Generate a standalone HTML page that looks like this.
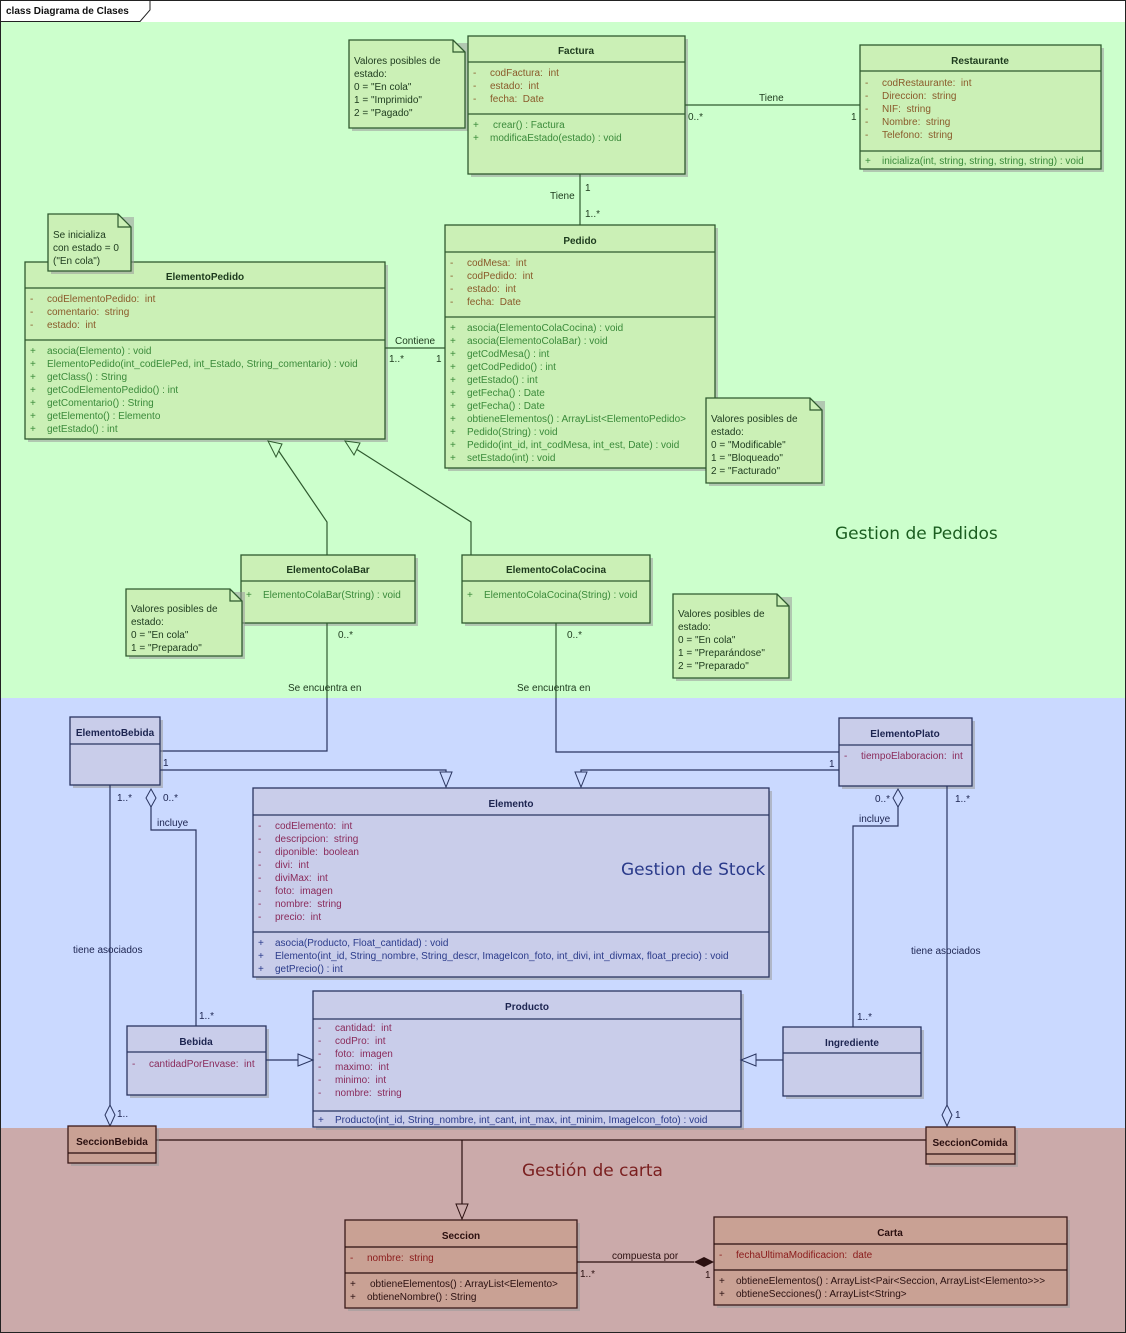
<!DOCTYPE html>
<html><head><meta charset="utf-8"><style>
html,body{margin:0;padding:0;background:#fff}
svg{display:block;font-family:"Liberation Sans",sans-serif}
text{white-space:pre}
.g{fill:#cbf0b6;stroke:#2f5a2f;stroke-width:1.3}
.b{fill:#c9cdea;stroke:#2a3560;stroke-width:1.3}
.r{fill:#c9a194;stroke:#3a1a1a;stroke-width:1.3}
.sh{fill:#9a9a9a;opacity:.55}
.hg{font-size:10px;font-weight:bold;fill:#1d3a1d;text-anchor:middle}
.hb{font-size:10px;font-weight:bold;fill:#1c2450;text-anchor:middle}
.hr{font-size:10px;font-weight:bold;fill:#2a0f0f;text-anchor:middle}
.ag{font-size:10px;fill:#8a5a2a}
.mg{font-size:10px;fill:#3a8a3a}
.ab{font-size:10px;fill:#8a2a5a}
.mb{font-size:10px;fill:#2a3a8a}
.ar{font-size:10px;fill:#8a1a1a}
.mr{font-size:10px;fill:#2a1010}
.n{font-size:10px;fill:#1d3a1d}
.lg{font-size:10px;fill:#1d3a1d}
.lb{font-size:10px;fill:#1c2450}
.lr{font-size:10px;fill:#2a0f0f}
.big{font-family:"DejaVu Sans",sans-serif;font-size:17px}
.lng{stroke:#2f5a2f;fill:none;stroke-width:1.2}
.lnb{stroke:#2a3560;fill:none;stroke-width:1.2}
.lnr{stroke:#2a0f0f;fill:none;stroke-width:1.2}
</style></head><body>
<svg width="1126" height="1333" viewBox="0 0 1126 1333" xmlns="http://www.w3.org/2000/svg">
<rect x="0" y="0" width="1126" height="1333" fill="#fff"/>
<rect x="1" y="22" width="1124" height="676" fill="#ccffcc"/>
<rect x="1" y="698" width="1124" height="430" fill="#cad9ff"/>
<rect x="1" y="1128" width="1124" height="204" fill="#cbaaaa"/>
<rect x="0.5" y="0.5" width="1125" height="1332" fill="none" stroke="#222"/>
<path d="M0.5 21.5 H140 L150 10 V0.5" fill="none" stroke="#222"/>
<text x="6" y="14" font-size="10" font-weight="bold" fill="#111">class Diagrama de Clases</text>

<g>
<rect class="sh" x="352" y="43" width="116" height="88"/>
<path d="M349 40 H453 L465 52 V128 H349 Z" class="g" fill="#cdf5c9"/>
<path d="M453 40 V52 H465" class="lng"/>
<text class="n" x="354" y="64">Valores posibles de</text>
<text class="n" x="354" y="77">estado:</text>
<text class="n" x="354" y="90">0 = "En cola"</text>
<text class="n" x="354" y="103">1 = "Imprimido"</text>
<text class="n" x="354" y="116">2 = "Pagado"</text>
</g>

<rect class="sh" x="471" y="39" width="217" height="138"/>
<rect class="g" x="468" y="36" width="217" height="138"/>
<line class="lng" x1="468" y1="62" x2="685" y2="62"/>
<line class="lng" x1="468" y1="114" x2="685" y2="114"/>
<text class="hg" x="576" y="54">Factura</text>
<text class="ag" x="473" y="76">-</text><text class="ag" x="490" y="76">codFactura:  int</text>
<text class="ag" x="473" y="89">-</text><text class="ag" x="490" y="89">estado:  int</text>
<text class="ag" x="473" y="102">-</text><text class="ag" x="490" y="102">fecha:  Date</text>
<text class="mg" x="473" y="128">+</text><text class="mg" x="493" y="128">crear() : Factura</text>
<text class="mg" x="473" y="141">+</text><text class="mg" x="490" y="141">modificaEstado(estado) : void</text>

<rect class="sh" x="863" y="48" width="241" height="124"/>
<rect class="g" x="860" y="45" width="241" height="124"/>
<line class="lng" x1="860" y1="71" x2="1101" y2="71"/>
<line class="lng" x1="860" y1="151" x2="1101" y2="151"/>
<text class="hg" x="980" y="64">Restaurante</text>
<text class="ag" x="865" y="86">-</text><text class="ag" x="882" y="86">codRestaurante:  int</text>
<text class="ag" x="865" y="99">-</text><text class="ag" x="882" y="99">Direccion:  string</text>
<text class="ag" x="865" y="112">-</text><text class="ag" x="882" y="112">NIF:  string</text>
<text class="ag" x="865" y="125">-</text><text class="ag" x="882" y="125">Nombre:  string</text>
<text class="ag" x="865" y="138">-</text><text class="ag" x="882" y="138">Telefono:  string</text>
<text class="mg" x="865" y="164">+</text><text class="mg" x="882" y="164">inicializa(int, string, string, string, string) : void</text>

<line class="lng" x1="685" y1="105" x2="860" y2="105"/>
<text class="lg" x="759" y="101">Tiene</text>
<text class="lg" x="688" y="120">0..*</text>
<text class="lg" x="851" y="120">1</text>

<line class="lng" x1="580" y1="174" x2="580" y2="225"/>
<text class="lg" x="550" y="199">Tiene</text>
<text class="lg" x="585" y="191">1</text>
<text class="lg" x="585" y="217">1..*</text>

<rect class="sh" x="448" y="228" width="270" height="243"/>
<rect class="g" x="445" y="225" width="270" height="243"/>
<line class="lng" x1="445" y1="252" x2="715" y2="252"/>
<line class="lng" x1="445" y1="317" x2="715" y2="317"/>
<text class="hg" x="580" y="244">Pedido</text>
<text class="ag" x="450" y="266">-</text><text class="ag" x="467" y="266">codMesa:  int</text>
<text class="ag" x="450" y="279">-</text><text class="ag" x="467" y="279">codPedido:  int</text>
<text class="ag" x="450" y="292">-</text><text class="ag" x="467" y="292">estado:  int</text>
<text class="ag" x="450" y="305">-</text><text class="ag" x="467" y="305">fecha:  Date</text>
<text class="mg" x="450" y="331">+</text><text class="mg" x="467" y="331">asocia(ElementoColaCocina) : void</text>
<text class="mg" x="450" y="344">+</text><text class="mg" x="467" y="344">asocia(ElementoColaBar) : void</text>
<text class="mg" x="450" y="357">+</text><text class="mg" x="467" y="357">getCodMesa() : int</text>
<text class="mg" x="450" y="370">+</text><text class="mg" x="467" y="370">getCodPedido() : int</text>
<text class="mg" x="450" y="383">+</text><text class="mg" x="467" y="383">getEstado() : int</text>
<text class="mg" x="450" y="396">+</text><text class="mg" x="467" y="396">getFecha() : Date</text>
<text class="mg" x="450" y="409">+</text><text class="mg" x="467" y="409">getFecha() : Date</text>
<text class="mg" x="450" y="422">+</text><text class="mg" x="467" y="422">obtieneElementos() : ArrayList&lt;ElementoPedido&gt;</text>
<text class="mg" x="450" y="435">+</text><text class="mg" x="467" y="435">Pedido(String) : void</text>
<text class="mg" x="450" y="448">+</text><text class="mg" x="467" y="448">Pedido(int_id, int_codMesa, int_est, Date) : void</text>
<text class="mg" x="450" y="461">+</text><text class="mg" x="467" y="461">setEstado(int) : void</text>

<rect class="sh" x="709" y="401" width="116" height="85"/>
<path d="M706 398 H810 L822 410 V483 H706 Z" class="g" fill="#cdf5c9"/>
<path d="M810 398 V410 H822" class="lng"/>
<text class="n" x="711" y="422">Valores posibles de</text>
<text class="n" x="711" y="435">estado:</text>
<text class="n" x="711" y="448">0 = "Modificable"</text>
<text class="n" x="711" y="461">1 = "Bloqueado"</text>
<text class="n" x="711" y="474">2 = "Facturado"</text>

<rect class="sh" x="28" y="265" width="360" height="177"/>
<rect class="g" x="25" y="262" width="360" height="177"/>
<line class="lng" x1="25" y1="288" x2="385" y2="288"/>
<line class="lng" x1="25" y1="340" x2="385" y2="340"/>
<text class="hg" x="205" y="280">ElementoPedido</text>
<text class="ag" x="30" y="302">-</text><text class="ag" x="47" y="302">codElementoPedido:  int</text>
<text class="ag" x="30" y="315">-</text><text class="ag" x="47" y="315">comentario:  string</text>
<text class="ag" x="30" y="328">-</text><text class="ag" x="47" y="328">estado:  int</text>
<text class="mg" x="30" y="354">+</text><text class="mg" x="47" y="354">asocia(Elemento) : void</text>
<text class="mg" x="30" y="367">+</text><text class="mg" x="47" y="367">ElementoPedido(int_codElePed, int_Estado, String_comentario) : void</text>
<text class="mg" x="30" y="380">+</text><text class="mg" x="47" y="380">getClass() : String</text>
<text class="mg" x="30" y="393">+</text><text class="mg" x="47" y="393">getCodElementoPedido() : int</text>
<text class="mg" x="30" y="406">+</text><text class="mg" x="47" y="406">getComentario() : String</text>
<text class="mg" x="30" y="419">+</text><text class="mg" x="47" y="419">getElemento() : Elemento</text>
<text class="mg" x="30" y="432">+</text><text class="mg" x="47" y="432">getEstado() : int</text>

<rect class="sh" x="51" y="217" width="83" height="57"/>
<path d="M48 214 H118 L131 227 V271 H48 Z" class="g" fill="#cdf5c9"/>
<path d="M118 214 V227 H131" class="lng"/>
<text class="n" x="53" y="238">Se inicializa</text>
<text class="n" x="53" y="251">con estado = 0</text>
<text class="n" x="53" y="264">("En cola")</text>

<line class="lng" x1="385" y1="348" x2="445" y2="348"/>
<text class="lg" x="395" y="344">Contiene</text>
<text class="lg" x="389" y="362">1..*</text>
<text class="lg" x="436" y="362">1</text>

<path class="lng" d="M327 555 V522 L276 447"/>
<path d="M268 441 L282 444 L276 457 Z" fill="#ccffcc" stroke="#2f5a2f"/>
<path class="lng" d="M471 555 V522 L353 447"/>
<path d="M345 441 L360 443 L354 455 Z" fill="#ccffcc" stroke="#2f5a2f"/>

<rect class="sh" x="244" y="558" width="174" height="68"/>
<rect class="g" x="241" y="555" width="174" height="68"/>
<line class="lng" x1="241" y1="581" x2="415" y2="581"/>
<text class="hg" x="328" y="573">ElementoColaBar</text>
<text class="mg" x="246" y="598">+</text><text class="mg" x="263" y="598">ElementoColaBar(String) : void</text>

<rect class="sh" x="465" y="558" width="188" height="68"/>
<rect class="g" x="462" y="555" width="188" height="68"/>
<line class="lng" x1="462" y1="581" x2="650" y2="581"/>
<text class="hg" x="556" y="573">ElementoColaCocina</text>
<text class="mg" x="467" y="598">+</text><text class="mg" x="484" y="598">ElementoColaCocina(String) : void</text>

<rect class="sh" x="129" y="592" width="116" height="67"/>
<path d="M126 589 H230 L242 601 V656 H126 Z" class="g" fill="#cdf5c9"/>
<path d="M230 589 V601 H242" class="lng"/>
<text class="n" x="131" y="612">Valores posibles de</text>
<text class="n" x="131" y="625">estado:</text>
<text class="n" x="131" y="638">0 = "En cola"</text>
<text class="n" x="131" y="651">1 = "Preparado"</text>

<rect class="sh" x="676" y="597" width="116" height="84"/>
<path d="M673 594 H777 L789 606 V678 H673 Z" class="g" fill="#cdf5c9"/>
<path d="M777 594 V606 H789" class="lng"/>
<text class="n" x="678" y="617">Valores posibles de</text>
<text class="n" x="678" y="630">estado:</text>
<text class="n" x="678" y="643">0 = "En cola"</text>
<text class="n" x="678" y="656">1 = "Preparándose"</text>
<text class="n" x="678" y="669">2 = "Preparado"</text>

<text class="big" x="835" y="539" fill="#1b5e20">Gestion de Pedidos</text>

<path class="lng" d="M327 623 V698"/>
<path class="lnb" d="M327 698 V751 H160"/>
<text class="lg" x="338" y="638">0..*</text>
<text class="lg" x="288" y="691">Se encuentra en</text>
<path class="lng" d="M556 623 V698"/>
<path class="lnb" d="M556 698 V752 H839"/>
<text class="lg" x="567" y="638">0..*</text>
<text class="lg" x="517" y="691">Se encuentra en</text>

<rect class="sh" x="73" y="720" width="90" height="68"/>
<rect class="b" x="70" y="717" width="90" height="68"/>
<line class="lnb" x1="70" y1="744" x2="160" y2="744"/>
<text class="hb" x="115" y="736">ElementoBebida</text>

<rect class="sh" x="842" y="721" width="133" height="68"/>
<rect class="b" x="839" y="718" width="133" height="68"/>
<line class="lnb" x1="839" y1="745" x2="972" y2="745"/>
<text class="hb" x="905" y="737">ElementoPlato</text>
<text class="ab" x="844" y="759">-</text><text class="ab" x="861" y="759">tiempoElaboracion:  int</text>

<path class="lnb" d="M160 770 H446 V772"/>
<path d="M440 772 L452 772 L446 787 Z" fill="#cad9ff" stroke="#2a3560"/>
<text class="lb" x="163" y="766">1</text>
<path class="lnb" d="M839 770 H581 V772"/>
<path d="M575 772 L587 772 L581 787 Z" fill="#cad9ff" stroke="#2a3560"/>
<text class="lb" x="829" y="767">1</text>

<rect class="sh" x="256" y="791" width="516" height="189"/>
<rect class="b" x="253" y="788" width="516" height="189"/>
<line class="lnb" x1="253" y1="815" x2="769" y2="815"/>
<line class="lnb" x1="253" y1="932" x2="769" y2="932"/>
<text class="hb" x="511" y="807">Elemento</text>
<text class="ab" x="258" y="829">-</text><text class="ab" x="275" y="829">codElemento:  int</text>
<text class="ab" x="258" y="842">-</text><text class="ab" x="275" y="842">descripcion:  string</text>
<text class="ab" x="258" y="855">-</text><text class="ab" x="275" y="855">diponible:  boolean</text>
<text class="ab" x="258" y="868">-</text><text class="ab" x="275" y="868">divi:  int</text>
<text class="ab" x="258" y="881">-</text><text class="ab" x="275" y="881">diviMax:  int</text>
<text class="ab" x="258" y="894">-</text><text class="ab" x="275" y="894">foto:  imagen</text>
<text class="ab" x="258" y="907">-</text><text class="ab" x="275" y="907">nombre:  string</text>
<text class="ab" x="258" y="920">-</text><text class="ab" x="275" y="920">precio:  int</text>
<text class="mb" x="258" y="946">+</text><text class="mb" x="275" y="946">asocia(Producto, Float_cantidad) : void</text>
<text class="mb" x="258" y="959">+</text><text class="mb" x="275" y="959">Elemento(int_id, String_nombre, String_descr, ImageIcon_foto, int_divi, int_divmax, float_precio) : void</text>
<text class="mb" x="258" y="972">+</text><text class="mb" x="275" y="972">getPrecio() : int</text>
<text class="big" x="621" y="875" fill="#2a3a8a">Gestion de Stock</text>

<path class="lnb" d="M151 806 V830 H196 V1026"/>
<path d="M151 789 L156 798 L151 807 L146 798 Z" fill="#cad9ff" stroke="#2a3560"/>
<text class="lb" x="157" y="826">incluye</text>
<text class="lb" x="163" y="801">0..*</text>
<text class="lb" x="199" y="1019">1..*</text>
<path class="lnb" d="M110 785 V1105"/>
<path d="M110 1105 L115 1115 L110 1126 L105 1115 Z" fill="#cad9ff" stroke="#2a3560"/>
<text class="lb" x="117" y="801">1..*</text>
<text class="lb" x="73" y="953">tiene asociados</text>
<text class="lb" x="117" y="1117">1..</text>

<path class="lnb" d="M898 806 V826 H853 V1027"/>
<path d="M898 789 L903 798 L898 807 L893 798 Z" fill="#cad9ff" stroke="#2a3560"/>
<text class="lb" x="859" y="822">incluye</text>
<text class="lb" x="875" y="802">0..*</text>
<text class="lb" x="857" y="1020">1..*</text>
<path class="lnb" d="M947 786 V1105"/>
<path d="M947 1105 L952 1115 L947 1126 L942 1115 Z" fill="#cad9ff" stroke="#2a3560"/>
<text class="lb" x="955" y="802">1..*</text>
<text class="lb" x="911" y="954">tiene asociados</text>
<text class="lb" x="955" y="1118">1</text>

<rect class="sh" x="316" y="994" width="428" height="136"/>
<rect class="b" x="313" y="991" width="428" height="136"/>
<line class="lnb" x1="313" y1="1019" x2="741" y2="1019"/>
<line class="lnb" x1="313" y1="1111" x2="741" y2="1111"/>
<text class="hb" x="527" y="1010">Producto</text>
<text class="ab" x="318" y="1031">-</text><text class="ab" x="335" y="1031">cantidad:  int</text>
<text class="ab" x="318" y="1044">-</text><text class="ab" x="335" y="1044">codPro:  int</text>
<text class="ab" x="318" y="1057">-</text><text class="ab" x="335" y="1057">foto:  imagen</text>
<text class="ab" x="318" y="1070">-</text><text class="ab" x="335" y="1070">maximo:  int</text>
<text class="ab" x="318" y="1083">-</text><text class="ab" x="335" y="1083">minimo:  int</text>
<text class="ab" x="318" y="1096">-</text><text class="ab" x="335" y="1096">nombre:  string</text>
<text class="mb" x="318" y="1123">+</text><text class="mb" x="335" y="1123">Producto(int_id, String_nombre, int_cant, int_max, int_minim, ImageIcon_foto) : void</text>

<rect class="sh" x="130" y="1029" width="139" height="69"/>
<rect class="b" x="127" y="1026" width="139" height="69"/>
<line class="lnb" x1="127" y1="1052" x2="266" y2="1052"/>
<text class="hb" x="196" y="1045">Bebida</text>
<text class="ab" x="132" y="1067">-</text><text class="ab" x="149" y="1067">cantidadPorEnvase:  int</text>
<path class="lnb" d="M266 1060 H298"/>
<path d="M298 1054 L313 1060 L298 1066 Z" fill="#cad9ff" stroke="#2a3560"/>

<rect class="sh" x="786" y="1030" width="138" height="69"/>
<rect class="b" x="783" y="1027" width="138" height="69"/>
<line class="lnb" x1="783" y1="1053" x2="921" y2="1053"/>
<text class="hb" x="852" y="1046">Ingrediente</text>
<path class="lnb" d="M783 1060 H756"/>
<path d="M756 1054 L741 1060 L756 1066 Z" fill="#cad9ff" stroke="#2a3560"/>

<path class="lnr" d="M156 1140 H926"/>
<path class="lnr" d="M462 1140 V1204"/>
<path d="M456 1204 L468 1204 L462 1219 Z" fill="#cbaaaa" stroke="#2a0f0f"/>
<rect class="sh" x="71" y="1129" width="88" height="37"/>
<rect class="r" x="68" y="1126" width="88" height="37"/>
<line class="lnr" x1="68" y1="1153" x2="156" y2="1153"/>
<text class="hr" x="112" y="1145">SeccionBebida</text>
<rect class="sh" x="929" y="1130" width="89" height="37"/>
<rect class="r" x="926" y="1127" width="89" height="37"/>
<line class="lnr" x1="926" y1="1154" x2="1015" y2="1154"/>
<text class="hr" x="970" y="1146">SeccionComida</text>
<text class="big" x="522" y="1176" fill="#7a1f1f">Gestión de carta</text>

<rect class="sh" x="348" y="1223" width="232" height="88"/>
<rect class="r" x="345" y="1220" width="232" height="88"/>
<line class="lnr" x1="345" y1="1247" x2="577" y2="1247"/>
<line class="lnr" x1="345" y1="1273" x2="577" y2="1273"/>
<text class="hr" x="461" y="1239">Seccion</text>
<text class="ar" x="350" y="1261">-</text><text class="ar" x="367" y="1261">nombre:  string</text>
<text class="mr" x="350" y="1287">+</text><text class="mr" x="370" y="1287">obtieneElementos() : ArrayList&lt;Elemento&gt;</text>
<text class="mr" x="350" y="1300">+</text><text class="mr" x="367" y="1300">obtieneNombre() : String</text>

<rect class="sh" x="717" y="1220" width="353" height="88"/>
<rect class="r" x="714" y="1217" width="353" height="88"/>
<line class="lnr" x1="714" y1="1244" x2="1067" y2="1244"/>
<line class="lnr" x1="714" y1="1270" x2="1067" y2="1270"/>
<text class="hr" x="890" y="1236">Carta</text>
<text class="ar" x="719" y="1258">-</text><text class="ar" x="736" y="1258">fechaUltimaModificacion:  date</text>
<text class="mr" x="719" y="1284">+</text><text class="mr" x="736" y="1284">obtieneElementos() : ArrayList&lt;Pair&lt;Seccion, ArrayList&lt;Elemento&gt;&gt;&gt;</text>
<text class="mr" x="719" y="1297">+</text><text class="mr" x="736" y="1297">obtieneSecciones() : ArrayList&lt;String&gt;</text>

<path class="lnr" d="M577 1262 H694"/>
<path d="M694 1262 L704 1257 L714 1262 L704 1267 Z" fill="#2a0f0f"/>
<text class="lr" x="612" y="1259">compuesta por</text>
<text class="lr" x="580" y="1277">1..*</text>
<text class="lr" x="705" y="1278">1</text>
</svg>
</body></html>
